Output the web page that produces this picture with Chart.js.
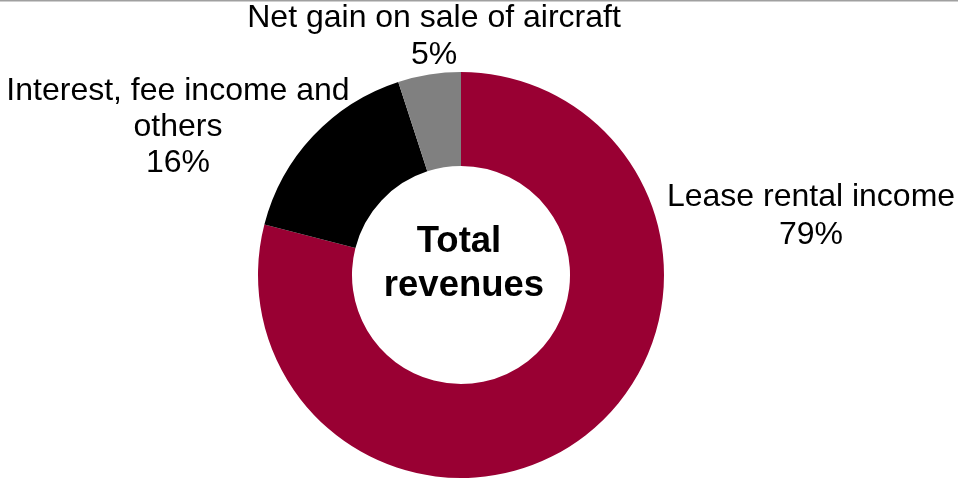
<!DOCTYPE html>
<html>
<head>
<meta charset="utf-8">
<script src="https://cdn.jsdelivr.net/npm/chart.js@4"></script>
<style>
  html, body { margin: 0; padding: 0; background: #fff; }
  #wrap { width: 958px; height: 479px; position: relative; }
</style>
</head>
<body>
<div id="wrap"><canvas id="chart"></canvas></div>
<script>
const categories = ['Lease rental income', 'Interest, fee income and others', 'Net gain on sale of aircraft'];
const shares = [79, 16, 5];
const sliceColors = ['#990033', '#000000', '#808080'];
// label lines per slice (text wrapped as in the original)
const labelLines = [
  ['Lease rental income', '79%'],
  ['Interest, fee income and', 'others', '16%'],
  ['Net gain on sale of aircraft', '5%']
];
const centerText = ['Total', 'revenues'];

// where each label block sits, measured from the donut centre
const labelOffsets = [
  { dx: 350, dy: -78, gap: 38 },
  { dx: -283, dy: -184, gap: 36 },
  { dx: -27, dy: -257, gap: 37 }
];

const labelPlugin = {
  id: 'labels',
  afterDraw(chart) {
    const ctx = chart.ctx;
    const arc = chart.getDatasetMeta(0).data[0];
    const cx = arc.x, cy = arc.y;
    ctx.save();
    // thin rule along the top edge
    ctx.strokeStyle = '#a0a0a0';
    ctx.lineWidth = 1.5;
    ctx.beginPath();
    ctx.moveTo(0, 0.75);
    ctx.lineTo(chart.width, 0.75);
    ctx.stroke();

    ctx.fillStyle = '#000';
    ctx.textAlign = 'center';
    ctx.textBaseline = 'middle';
    ctx.font = '32px "Liberation Sans", Arial, sans-serif';
    labelLines.forEach((lines, i) => {
      const o = labelOffsets[i];
      lines.forEach((t, j) => {
        ctx.fillText(t, cx + o.dx, cy + o.dy + j * o.gap);
      });
    });

    ctx.font = 'bold 36.5px "Liberation Sans", Arial, sans-serif';
    ctx.fillText(centerText[0], cx - 2, cy - 33);
    ctx.fillText(centerText[1], cx + 3, cy + 11);
    ctx.restore();
  }
};

new Chart(document.getElementById('chart'), {
  type: 'doughnut',
  data: {
    labels: categories,
    datasets: [{
      data: shares,
      backgroundColor: sliceColors,
      borderWidth: 0,
      hoverOffset: 0
    }]
  },
  options: {
    responsive: true,
    maintainAspectRatio: false,
    animation: false,
    cutout: '53.7%',
    layout: { padding: { top: 72, bottom: 1, left: 0, right: 36 } },
    plugins: {
      legend: { display: false },
      tooltip: { enabled: false }
    }
  },
  plugins: [labelPlugin]
});
</script>
</body>
</html>
